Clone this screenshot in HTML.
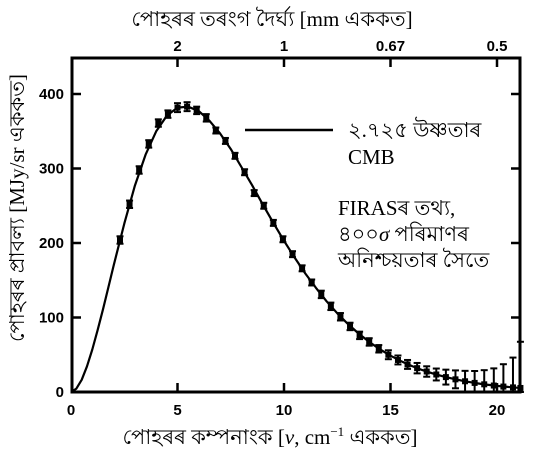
<!DOCTYPE html>
<html><head><meta charset="utf-8">
<style>
html,body{margin:0;padding:0;background:#fff;}
svg{display:block;}
.bn{font-family:"Liberation Serif","Noto Serif CJK SC","Noto Sans CJK SC",serif;fill:#000;}
.tk{font-family:"Liberation Sans",sans-serif;font-weight:bold;font-size:15px;fill:#000;}
</style></head>
<body>
<svg id="chart" width="534" height="453" viewBox="0 0 534 453" xmlns="http://www.w3.org/2000/svg">
  <text class="bn" x="272" y="26" font-size="21" text-anchor="middle">পোহৰৰ তৰংগ দৈৰ্ঘ্য [mm এককত]</text>
  <text class="bn" x="270" y="444" font-size="21" text-anchor="middle">পোহৰৰ কম্পনাংক [<tspan font-style="italic">ν</tspan>, cm<tspan dy="-8" font-size="13">−1</tspan><tspan dy="8"> এককত]</tspan></text>
  <text class="bn" font-size="21" text-anchor="middle" transform="translate(24,208) rotate(-90)">পোহৰৰ প্ৰাবল্য [MJy/sr এককত]</text>
  <g id="axes"></g>
  <g id="marks"></g>
  <line x1="245" y1="130" x2="333" y2="130" stroke="#000" stroke-width="2.5"/>
  <text class="bn" x="348" y="137" font-size="21">২.৭২৫ উষ্ণতাৰ</text>
  <text class="bn" x="348" y="164" font-size="21">CMB</text>
  <text class="bn" x="338" y="215" font-size="21">FIRASৰ তথ্য,</text>
  <text class="bn" x="338" y="241" font-size="21">৪০০<tspan font-style="italic">σ</tspan> পৰিমাণৰ</text>
  <text class="bn" x="338" y="267" font-size="21">অনিশ্চয়তাৰ সৈতে</text>
</svg>
<script>
const curveNu = [0,0.25,0.5,0.75,1,1.25,1.5,1.75,2,2.5,3,3.5,4,4.5,5,5.5,6,6.5,7,7.5,8,8.5,9,9.5,10,10.5,11,11.5,12,12.5,13,13.5,14,14.5,15,15.5,16,16.5,17,17.5,18,18.5,19,19.5,20,20.5,21];
const curveVal = [0,4.4,16.4,34.5,57.1,83,111,140.2,169.5,226,277,318.6,350,371,381.7,383,377,364,347,326,302,277.6,252,227,203,180.6,159,139.7,121.8,105.7,91.3,78.5,67.2,57.3,48.7,41.3,34.9,29.4,24.7,20.7,17.3,14.4,12.0,9.9,8.2,6.8,5.6];
const dataNu = [2.3,2.75,3.2,3.65,4.1,4.55,5,5.45,5.9,6.35,6.8,7.25,7.7,8.15,8.6,9.05,9.5,9.95,10.4,10.85,11.3,11.75,12.2,12.65,13.1,13.55,14,14.45,14.9,15.35,15.8,16.25,16.7,17.15,17.6,18.05,18.5,18.95,19.4,19.85,20.3,20.75,21.1];
const dataVal = [204,252,298,333,361,373,381.7,383,378,368,351,337,317,295,267,250,227,205,185,166,147,131,115,101,88,76,67.2,58,50,43,37,32,27.5,23.5,20,17,14.4,12.2,10.3,8.7,7.3,6.2,5.4];
const dataErr = [5,5,5,5,5,5,6,6,5,5,4,4,4,4,4,4,4,4,4,4,4,5,5,5,5,5,5,5,6,6,6,7,7,8,10,12,14,16,19,23,30,40,62];
const xTicks = [0,5,10,15,20];
const yTicks = [0,100,200,300,400];
const topTickNu = [5,10,15,20];
const topTickLabels = ["2","1","0.67","0.5"];

const L=72,R=520,T=58,B=392;
function xs(v){return 71+v*21.3;}
function ys(v){return 392-v*0.745;}
const NS="http://www.w3.org/2000/svg";
function mk(tag,attrs,parent){const e=document.createElementNS(NS,tag);for(const k in attrs)e.setAttribute(k,attrs[k]);parent.appendChild(e);return e;}
const ax=document.getElementById('axes'), mg=document.getElementById('marks');

const frame=mk('rect',{x:L,y:T,width:R-L,height:B-T,fill:'none',stroke:'#000','stroke-width':3},ax);



xTicks.forEach(v=>{
  const x=xs(v);
  if(v>0){const t=mk('line',{x1:x,y1:B,x2:x,y2:B-9,stroke:'#000','stroke-width':2.5},ax);
  
  }
  const l=mk('text',{x:x,y:415,class:'tk','text-anchor':'middle'},ax);l.textContent=v;
  
  
});
yTicks.forEach(v=>{
  const y=ys(v);
  if(v>0){const t=mk('line',{x1:L,y1:y,x2:L+9,y2:y,stroke:'#000','stroke-width':2.5},ax);
  
  
  const t2=mk('line',{x1:R,y1:y,x2:R-9,y2:y,stroke:'#000','stroke-width':2.5},ax);
  
  }
  const l=mk('text',{x:64,y:y+5,class:'tk','text-anchor':'end'},ax);l.textContent=v;
  
  
});
topTickNu.forEach((v,i)=>{
  const x=xs(v);
  const t=mk('line',{x1:x,y1:T,x2:x,y2:T+9,stroke:'#000','stroke-width':2.5},ax);
  
  
  const l=mk('text',{x:x,y:51,class:'tk','text-anchor':'middle'},ax);l.textContent=topTickLabels[i];
  
  
});

let d='';
curveNu.forEach((v,i)=>{d+=(i?'L':'M')+xs(v).toFixed(1)+' '+ys(curveVal[i]).toFixed(1);});
const path=mk('path',{d:d,fill:'none',stroke:'#000','stroke-width':2.2,'stroke-linejoin':'round'},mg);



dataNu.forEach((v,i)=>{
  const x=xs(v), y=ys(dataVal[i]);
  const y1=ys(dataVal[i]+dataErr[i]), y2=Math.min(B,ys(dataVal[i]-dataErr[i]));
  const g=mk('g',{},mg);
  
  
  mk('line',{x1:x,y1:y1,x2:x,y2:y2,stroke:'#000','stroke-width':2},g);
  mk('line',{x1:x-3.5,y1:y1,x2:x+3.5,y2:y1,stroke:'#000','stroke-width':2},g);
  mk('line',{x1:x-3.5,y1:y2,x2:x+3.5,y2:y2,stroke:'#000','stroke-width':2},g);
  mk('rect',{x:x-3,y:y-3,width:6,height:6,fill:'#000'},g);
});
</script>
</body></html>
